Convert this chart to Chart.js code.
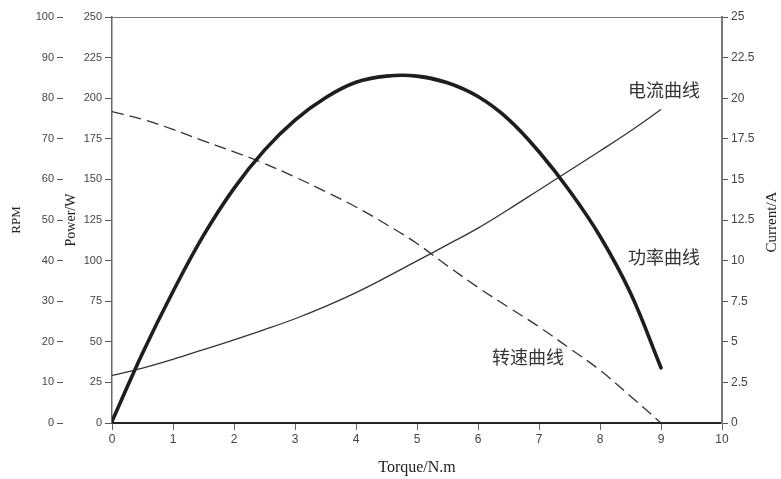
<!DOCTYPE html>
<html><head><meta charset="utf-8">
<script src="https://cdn.jsdelivr.net/npm/chart.js@4.4.1/dist/chart.umd.min.js"></script>
<style>html,body{margin:0;padding:0;background:#fff;}#wrap{width:781px;height:479px;}</style>
</head><body><div id="wrap"><canvas id="c" width="781" height="479"></canvas></div>
<script>
// ---- data ----
const torque   = [0, 0.5, 1, 1.5, 2, 2.5, 3, 3.5, 4, 4.5, 5, 5.5, 6, 6.5, 7, 7.5, 8, 8.5, 9];
const powerW   = [1, 43, 81, 115.5, 144.5, 168, 186.5, 200.3, 209.8, 213.6, 213.6, 209.5, 201, 187, 167, 143, 115, 80, 34];
const speedRPM = [76.7, 74.8, 72.3, 69.5, 66.8, 63.9, 60.6, 57.0, 53.2, 48.9, 44.2, 38.7, 33.4, 28.5, 23.7, 18.4, 13.0, 6.6, 0];
const currentA = [2.93, 3.38, 3.92, 4.52, 5.12, 5.75, 6.42, 7.18, 8.03, 8.98, 9.98, 10.98, 12.0, 13.15, 14.35, 15.55, 16.75, 17.98, 19.3];
const curveNames = ['电流曲线', '功率曲线', '转速曲线'];

const pts = arr => torque.map((t, i) => ({x: t, y: arr[i]}));
const tickFont = {family: '"Liberation Sans", Arial, sans-serif', size: 11};
const serif = '"Liberation Serif", "Times New Roman", serif';

const labelPlugin = {
  id: 'extras',
  afterDraw(chart) {
    const {ctx, chartArea: a, scales} = chart;
    ctx.save();
    // top frame line
    ctx.strokeStyle = '#777'; ctx.lineWidth = 1;
    ctx.beginPath(); ctx.moveTo(a.left, a.top + 0.5); ctx.lineTo(a.right, a.top + 0.5); ctx.stroke();
    // curve labels (placed in data units)
    ctx.fillStyle = '#333';
    ctx.font = '18px "Noto Sans CJK SC", sans-serif';
    ctx.textAlign = 'center'; ctx.textBaseline = 'middle';
    const place = [[9.05, 205], [9.05, 102], [6.82, 40.5]];
    curveNames.forEach((n, i) => {
      ctx.fillText(n, scales.x.getPixelForValue(place[i][0]), scales.yPow.getPixelForValue(place[i][1]));
    });
    // right axis title, reading bottom-to-top
    ctx.font = '15px ' + serif;
    ctx.fillStyle = '#222';
    ctx.translate(772, (a.top + a.bottom) / 2 + 2);
    ctx.rotate(-Math.PI / 2);
    ctx.fillText('Current/A', 0, 0);
    ctx.restore();
  }
};

new Chart(document.getElementById('c'), {
  type: 'line',
  data: {
    datasets: [
      {label: 'Power', data: pts(powerW), yAxisID: 'yPow', borderColor: '#1e1e1e', borderWidth: 3.6, pointRadius: 0, tension: 0.4, borderCapStyle: 'round'},
      {label: 'Current', data: pts(currentA), yAxisID: 'yCur', borderColor: '#333', borderWidth: 1.3, pointRadius: 0, tension: 0.4},
      {label: 'Speed', data: pts(speedRPM), yAxisID: 'yRpm', borderColor: '#333', borderWidth: 1.3, borderDash: [12, 6], pointRadius: 0, tension: 0.4}
    ]
  },
  options: {
    responsive: false, animation: false, devicePixelRatio: 1,
    layout: {padding: {top: 17, left: 0, right: 0, bottom: 0}},
    plugins: {legend: {display: false}, tooltip: {enabled: false}},
    scales: {
      x: {
        type: 'linear', position: 'bottom', min: 0, max: 10,
        ticks: {stepSize: 1, font: {size: 12, family: tickFont.family}, color: '#444', padding: 2},
        grid: {drawOnChartArea: false, tickLength: 7, color: '#666'},
        border: {color: '#222', width: 2},
        title: {display: true, text: 'Torque/N.m', font: {family: serif, size: 16}, color: '#222', padding: {top: 0, bottom: 2}},
        afterFit: s => { s.height = 56; }
      },
      yRpm: {
        position: 'left', weight: 2, min: 0, max: 100,
        ticks: {stepSize: 10, font: tickFont, color: '#444', padding: 3},
        grid: {drawOnChartArea: false, tickLength: 6, color: '#555'},
        border: {display: false},
        title: {display: true, text: 'RPM', font: {family: serif, size: 13}, color: '#222', padding: {top: 9, bottom: 0}},
        afterFit: s => { s.width = 63; }
      },
      yPow: {
        position: 'left', weight: 1, min: 0, max: 250,
        ticks: {stepSize: 25, font: tickFont, color: '#444', padding: 3},
        grid: {drawOnChartArea: false, tickLength: 7, color: '#555'},
        border: {color: '#666', width: 1.5},
        title: {display: true, text: 'Power/W', font: {family: serif, size: 14}, color: '#222', padding: {top: 0, bottom: 0}},
        afterFit: s => { s.width = 49; }
      },
      yCur: {
        position: 'right', min: 0, max: 25,
        ticks: {stepSize: 2.5, font: {size: 12, family: tickFont.family}, color: '#444', padding: 3,
          callback: v => Number.isInteger(v) ? String(v) : v.toFixed(1)},
        grid: {drawOnChartArea: false, tickLength: 6, color: '#555'},
        border: {color: '#777', width: 2},
        afterFit: s => { s.width = 59; }
      }
    }
  },
  plugins: [labelPlugin]
});
</script></body></html>
